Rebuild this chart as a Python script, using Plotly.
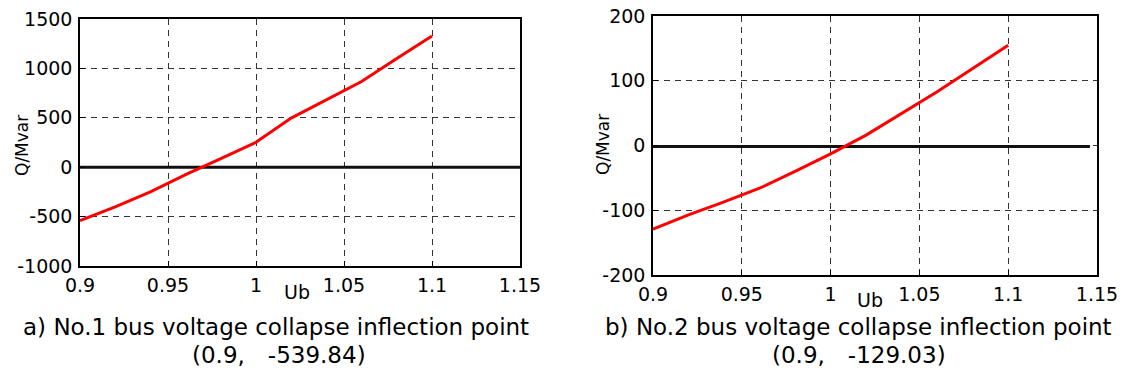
import plotly.graph_objects as go

# ---- data ----
u1 = [0.90, 0.92, 0.94, 0.96, 0.98, 1.00, 1.02, 1.04, 1.06, 1.08, 1.10]
q1 = [-539.84, -401, -250, -75, 87, 252, 497, 682, 867, 1100, 1328]
u2 = [0.90, 0.92, 0.94, 0.96, 0.98, 1.00, 1.02, 1.04, 1.06, 1.08, 1.10]
q2 = [-129.03, -107, -87, -66, -40, -13, 16, 49, 83, 119, 155]
zero1_u = [0.90, 1.15]
zero1_q = [0, 0]
zero2_u = [0.90, 1.146]
zero2_q = [-1.5, -1.5]
xticks = [0.9, 0.95, 1.0, 1.05, 1.1, 1.15]
xtick_text = ["0.9", "0.95", "1", "1.05", "1.1", "1.15"]
yticks1 = [-1000, -500, 0, 500, 1000, 1500]
ytick_text1 = ["-1000", "-500", "0", "500", "1000", "1500"]
yticks2 = [-200, -100, 0, 100, 200]
ytick_text2 = ["-200", "-100", "0", "100", "200"]
captions = ["a) No.1 bus voltage collapse inflection point",
            "b) No.2 bus voltage collapse inflection point"]
points = ["(0.9,\u2003-539.84)", "(0.9,\u2003-129.03)"]

# page is 1126x376; the html body has an 8px margin, so the figure is inset by 8px
PAGE_W, PAGE_H = 1126, 376
OFF = 8
W, H = PAGE_W - OFF, PAGE_H - OFF
FONT = "DejaVu Sans, Liberation Sans, sans-serif"

fig = go.Figure()
fig.add_trace(go.Scatter(x=zero1_u, y=zero1_q, mode="lines",
                         line=dict(color="#111111", width=3), xaxis="x", yaxis="y", showlegend=False))
fig.add_trace(go.Scatter(x=u1, y=q1, mode="lines",
                         line=dict(color="#ff0000", width=3), xaxis="x", yaxis="y", showlegend=False))
fig.add_trace(go.Scatter(x=zero2_u, y=zero2_q, mode="lines",
                         line=dict(color="#111111", width=3), xaxis="x2", yaxis="y2", showlegend=False))
fig.add_trace(go.Scatter(x=u2, y=q2, mode="lines",
                         line=dict(color="#ff0000", width=3), xaxis="x2", yaxis="y2", showlegend=False))


def px_x(p):
    return (p - OFF) / W


def px_y(p):
    return 1 - (p - OFF) / H


axis_common = dict(showline=True, linecolor="black", linewidth=1.5, mirror=True,
                   ticks="inside", ticklen=5, tickcolor="black", automargin=False,
                   ticklabeloverflow="allow",
                   showgrid=True, gridcolor="#333333", gridwidth=1, griddash="6px,5px",
                   zeroline=False, tickfont=dict(family=FONT, size=19, color="black"))

fig.update_layout(
    template="none",
    width=W, height=H, margin=dict(l=0, r=0, t=0, b=0),
    paper_bgcolor="white", plot_bgcolor="white", showlegend=False,
    xaxis=dict(domain=[px_x(80), px_x(520)], range=[0.9, 1.15], tickvals=xticks,
               ticktext=xtick_text, anchor="y", ticklabelstandoff=1, **axis_common),
    yaxis=dict(domain=[px_y(266), px_y(19)], range=[-1000, 1500], tickvals=yticks1,
               ticktext=ytick_text1, anchor="x", ticklabelstandoff=2, **axis_common),
    xaxis2=dict(domain=[px_x(653), px_x(1097)], range=[0.9, 1.15], tickvals=xticks,
                ticktext=xtick_text, anchor="y2", ticklabelstandoff=1, **axis_common),
    yaxis2=dict(domain=[px_y(275), px_y(16)], range=[-200, 200], tickvals=yticks2,
                ticktext=ytick_text2, anchor="x2", ticklabelstandoff=2, **axis_common),
)


def note(text, x, y, size, angle=0):
    return dict(text=text, x=px_x(x), y=px_y(y), xref="paper", yref="paper",
                xanchor="center", yanchor="middle", showarrow=False, textangle=angle,
                font=dict(family=FONT, size=size, color="black"))


ann = [
    note("Q/Mvar", 22, 146, 17, -90),
    note("Q/Mvar", 603, 145, 17, -90),
    note("Ub", 297, 292, 19),
    note("Ub", 870, 300, 19),
    note(captions[0], 276, 327, 23),
    note(points[0], 279, 355, 23),
    note(captions[1], 858, 327, 23),
    note(points[1], 859, 355, 23),
]
fig.update_layout(annotations=ann)

fig.write_html("out.html")
